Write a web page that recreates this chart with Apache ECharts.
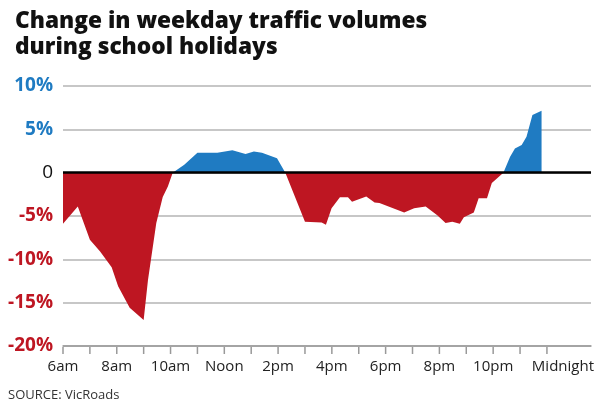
<!DOCTYPE html>
<html>
<head>
    <meta charset="UTF-8">
    <title>Change in weekday traffic volumes</title>
    <script src="https://cdn.jsdelivr.net/npm/echarts@6/dist/echarts.min.js"></script>
    <style>
        body { margin: 0; background: #fff; }
        #main { width: 597px; height: 405px; }
    </style>
</head>
<body>
<div id="main"></div>
<script type="text/javascript">

    // hour of day (24h clock) and % change in traffic
    var hours = [6.0, 6.55, 7.0, 7.38, 7.81, 8.05, 8.48, 9.0, 9.16, 9.47, 9.71, 9.9, 10.08,
        10.51, 11.0, 11.74, 12.3, 12.79, 13.1, 13.4, 13.96, 14.27,
        15.0, 15.62, 15.78, 15.99, 16.3, 16.6, 16.75, 17.28, 17.59, 17.77, 18.69, 19.06,
        19.49, 19.92, 20.23, 20.48, 20.76, 20.91, 21.28, 21.46, 21.77, 21.95, 22.38,
        22.63, 22.81, 23.06, 23.24, 23.46, 23.8];
    var changes = [-5.9, -3.9, -7.75, -9.1, -10.9, -13.1, -15.6, -17.0, -12.4, -5.8, -2.8, -1.6, 0,
        0.9, 2.3, 2.3, 2.6, 2.15, 2.45, 2.3, 1.65, 0,
        -5.65, -5.75, -6.0, -4.1, -2.85, -2.85, -3.35, -2.75, -3.45, -3.5, -4.6, -4.1,
        -3.9, -4.9, -5.8, -5.65, -5.9, -5.15, -4.6, -2.95, -2.95, -1.2, 0,
        1.85, 2.8, 3.2, 4.15, 6.65, 7.15];

    var tickHours = [6, 7, 8, 9, 10, 11, 12, 13, 14, 15, 16, 17, 18, 19, 20, 21, 22, 23, 24];
    var labelHours = [6, 8, 10, 12, 14, 16, 18, 20, 22, 24];
    var hourLabels = ['6am', '8am', '10am', 'Noon', '2pm', '4pm', '6pm', '8pm', '10pm', 'Midnight'];

    var RED = '#be1622';
    var BLUE = '#1f7bc2';
    var Y_MIN = -20;

    // split into the part above and below zero (crossings are in the data as 0)
    var above = hours.map(function (h, i) { return [h, Math.max(changes[i], 0)]; });
    var below = hours.map(function (h, i) { return [h, Math.min(changes[i], 0)]; });

    var myChart = echarts.init(document.getElementById('main'));

    var option = {
        animation: false,
        textStyle: { fontFamily: 'Open Sans' },
        title: {
            text: 'Change in weekday traffic volumes\nduring school holidays',
            left: 10,
            top: 4,
            textStyle: {
                fontFamily: 'Open Sans',
                fontSize: 22.7,
                fontWeight: 800,
                lineHeight: 26,
                color: '#111'
            }
        },
        graphic: [{
            type: 'text',
            left: 8,
            top: 389,
            style: { text: 'SOURCE: VicRoads', fontSize: 13, fill: '#333', fontFamily: 'Open Sans' }
        }],
        grid: { left: 63, right: 2, top: 86, bottom: 59 },
        xAxis: {
            type: 'value',
            min: 6,
            max: 25.64,
            interval: 1,
            axisLine: { show: true, onZero: false, lineStyle: { color: '#999', width: 1.5 } },
            axisTick: { show: false },
            axisLabel: {
                customValues: labelHours,
                margin: 13,
                fontSize: 15,
                color: '#222',
                formatter: function (v) {
                    var i = labelHours.indexOf(v);
                    if (i < 0) return '';
                    return v === 24 ? '{mid|' + hourLabels[i] + '}' : hourLabels[i];
                },
                rich: {
                    mid: { fontSize: 15, color: '#222', padding: [0, 0, 0, 32] }
                }
            },
            splitLine: { show: false }
        },
        yAxis: {
            type: 'value',
            min: Y_MIN,
            max: 10,
            interval: 5,
            axisLine: { show: false },
            axisTick: { show: false },
            axisLabel: {
                margin: 10,
                formatter: function (v) {
                    if (v > 0) return '{pos|' + v + '%}';
                    if (v < 0) return '{neg|' + v + '%}';
                    return '{zero|0}';
                },
                rich: {
                    pos: { color: BLUE, fontSize: 19, fontWeight: 'bold', fontFamily: 'Open Sans' },
                    neg: { color: RED, fontSize: 19, fontWeight: 'bold', fontFamily: 'Open Sans' },
                    zero: { color: '#111', fontSize: 19, fontFamily: 'Open Sans' }
                }
            },
            splitLine: { lineStyle: { color: '#b4b4b4', width: 1.5 } }
        },
        series: [{
            name: 'below',
            type: 'line',
            data: below,
            symbol: 'none',
            lineStyle: { width: 0 },
            itemStyle: { color: RED },
            areaStyle: { color: RED, opacity: 1 }
        }, {
            name: 'above',
            type: 'line',
            data: above,
            symbol: 'none',
            lineStyle: { width: 0 },
            itemStyle: { color: BLUE },
            areaStyle: { color: BLUE, opacity: 1 },
            markLine: {
                silent: true,
                symbol: 'none',
                label: { show: false },
                lineStyle: { color: '#000', width: 2.5, type: 'solid' },
                data: [{ yAxis: 0 }]
            }
        }, {
            // hourly ticks under the time axis, only up to midnight
            name: 'ticks',
            type: 'custom',
            silent: true,
            clip: false,
            data: tickHours.map(function (h) { return [h, Y_MIN]; }),
            renderItem: function (params, api) {
                var p = api.coord([api.value(0), api.value(1)]);
                return {
                    type: 'line',
                    shape: { x1: p[0], y1: p[1] + 1, x2: p[0], y2: p[1] + 8 },
                    style: { stroke: '#999', lineWidth: 1.5 }
                };
            }
        }]
    };

    myChart.setOption(option);
</script>
</body>
</html>
